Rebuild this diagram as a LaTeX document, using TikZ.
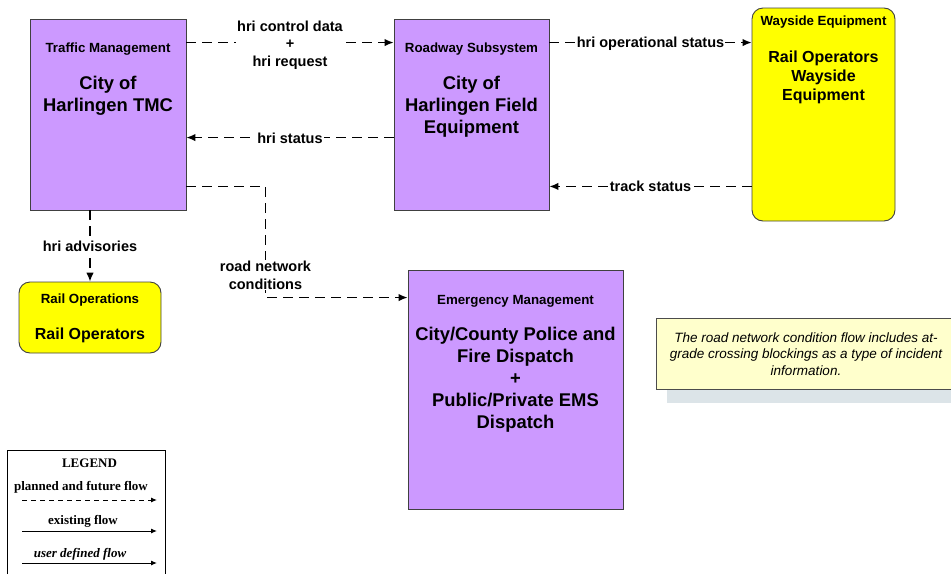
\documentclass[tikz,border=0pt]{standalone}
\usepackage{fontspec}
\setmainfont{Liberation Sans}
\newfontfamily\legfont{Liberation Serif}
\usetikzlibrary{positioning,arrows.meta,backgrounds}
\definecolor{cSub}{HTML}{CC99FF}
\definecolor{cTerm}{HTML}{FFFF00}
\definecolor{cNote}{HTML}{FFFFCC}
\definecolor{cShade}{HTML}{DCE4E8}

\begin{document}
\begin{tikzpicture}[x=1pt, y=-1pt,
  sub/.style  = {draw=black!75, line width=0.9pt, fill=cSub, inner sep=0pt},
  term/.style = {sub, fill=cTerm, rounded corners=11pt},
  hd/.style   = {font=\fontsize{13.3}{16}\selectfont\bfseries, inner sep=0pt},
  nm/.style   = {font=\fontsize{18.4}{22}\selectfont\bfseries, align=center, inner sep=0pt},
  nmt/.style  = {font=\fontsize{16}{19}\selectfont\bfseries, align=center, inner sep=0pt},
  fl/.style   = {line width=1.3pt, dash pattern=on 10pt off 6pt,
                 -{Latex[length=9pt,width=7.5pt]}},
  flab/.style = {font=\fontsize{14.5}{17.5}\selectfont\bfseries, align=center,
                 fill=white, inner sep=1pt},
  note/.style = {draw=black!70, line width=0.9pt, fill=cNote, minimum width=300,
                 minimum height=71, align=center,
                 font=\fontsize{13.5}{16.5}\selectfont\itshape},
  leg/.style  = {font=\fontsize{13}{15}\legfont\bfseries, inner sep=0pt},
  lsolid/.style = {line width=1pt, -{Latex[length=6pt,width=5pt]}},
  ldash/.style  = {lsolid, dash pattern=on 5pt off 4pt},
]
\useasboundingbox (0,0) rectangle (951,574);

% subsystems and terminators
\node[sub, minimum width=156, minimum height=191] (tmc) at (108,114.5) {};
\node[hd] (tmchd) at ([yshift=-31pt]tmc.north) {Traffic Management};
\node[nm] (tmcnm) at ([yshift=-77pt]tmc.north) {City of\\Harlingen TMC};

\node[sub, minimum width=155, minimum height=191] (rs) at (471.5,114.5) {};
\node[hd] (rshd) at ([yshift=-31pt]rs.north) {Roadway Subsystem};
\node[nm] (rsnm) at ([yshift=-88pt]rs.north) {City of\\Harlingen Field\\Equipment};

\node[term, minimum width=143, minimum height=213] (wse) at (823.5,114.5) {};
\node[hd] (wsehd) at ([yshift=-15pt]wse.north) {Wayside Equipment};
\node[nmt] (wsenm) at ([yshift=-70pt]wse.north) {Rail Operators\\Wayside\\Equipment};

\node[term, minimum width=142, minimum height=71] (rop) at (90,317.5) {};
\node[hd] (rophd) at ([yshift=-19pt]rop.north) {Rail Operations};
\node[nmt] (ropnm) at ([yshift=-54pt]rop.north) {Rail Operators};

\node[sub, minimum width=215, minimum height=239] (em) at (515.5,389.5) {};
\node[hd] (emhd) at ([yshift=-32pt]em.north) {Emergency Management};
\node[nm] (emnm) at ([yshift=-110.5pt]em.north)
  {City/County Police and\\Fire Dispatch\\+\\Public/Private EMS\\Dispatch};

% flows
\draw[fl] ([yshift=-24pt]tmc.north east) -- node[flab, yshift=-2.5pt] (hcd) {hri control data\\+\\hri request}
  ([yshift=-24pt]rs.north west);
\draw[fl] ([yshift=-119pt]rs.north west) -- node[flab, yshift=-1pt] (hst) {hri status}
  ([yshift=-119pt]tmc.north east);
\draw[fl] ([yshift=-24pt]rs.north east) -- node[flab, yshift=-1pt] (hos) {hri operational status}
  ([yshift=-35pt]wse.north west);
\draw[fl] ([yshift=35pt]wse.south west) -- node[flab] (tks) {track status}
  ([yshift=24pt]rs.south east);
\draw[fl] (rop.north |- tmc.south) -- node[flab] (hadv) {hri advisories} (rop.north);
\draw[fl] ([yshift=24pt]tmc.south east) -- ++(79,0)
  |- node[flab, pos=0.39, yshift=-2pt] (rnc) {road network\\conditions} ([yshift=-28pt]em.north west);

% note
\node[note] (nt) at (806,354)
  {The road network condition flow includes at-\\grade crossing blockings as a type of incident\\information.};
\begin{pgfonlayer}{background}
  \fill[cShade] ([xshift=11pt,yshift=-13pt]nt.south west)
    rectangle ([xshift=11pt,yshift=-13pt]nt.north east);
\end{pgfonlayer}

% legend
\draw[line width=1pt] (7,574) -- (7,450) -- (165,450) -- (165,574);
\node[leg] (lgd) at (89.5,463) {LEGEND};
\node[leg] (lpf) at (81,487) {planned and future flow};
\node[leg] (lex) at (83,521) {existing flow};
\node[leg, font=\fontsize{13}{15}\legfont\bfseries\itshape] (lud) at (80,554) {user defined flow};
\foreach \n/\y in {a/500, b/531, c/563} {
  \coordinate (ls\n) at (22,\y);
  \coordinate (le\n) at (157,\y);
}
\draw[ldash]  (lsa) -- (lea);
\draw[lsolid] (lsb) -- (leb);
\draw[lsolid] (lsc) -- (lec);
\end{tikzpicture}
\end{document}
